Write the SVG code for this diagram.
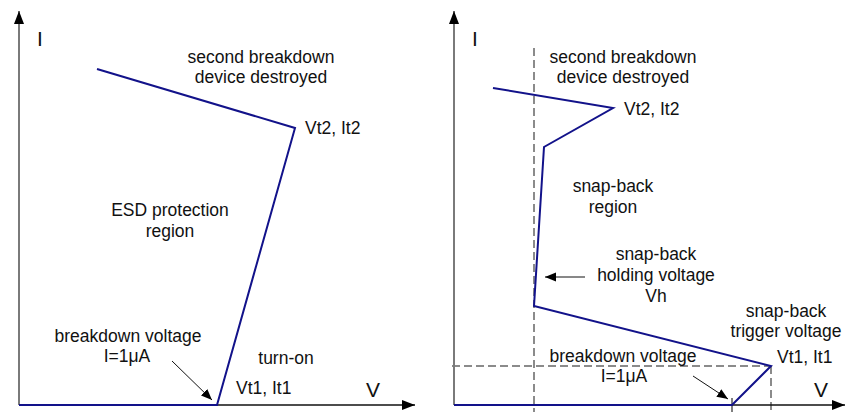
<svg xmlns="http://www.w3.org/2000/svg" width="845" height="412" viewBox="0 0 845 412">
  <style>
    .t { font-family: "Liberation Sans", Arial, sans-serif; font-size: 17.5px; fill: #111; }
    .m { text-anchor: middle; }
    .ax { font-family: "Liberation Sans", Arial, sans-serif; font-size: 21px; fill: #111; }
    .yaxis { stroke: #7a7a7a; stroke-width: 2; fill: none; }
    .xaxis { stroke: #111; stroke-width: 1.5; fill: none; }
    .curve { stroke: #12128a; stroke-width: 2; fill: none; stroke-linejoin: miter; }
    .dash { stroke: #666; stroke-width: 1.5; stroke-dasharray: 8 4; fill: none; }
    .ann { stroke: #111; stroke-width: 1; fill: none; }
  </style>
  <defs>
    <marker id="axarrow" markerWidth="14" markerHeight="10" refX="13" refY="5" orient="auto" markerUnits="userSpaceOnUse">
      <path d="M0,0 L13,5 L0,10 Z" fill="#000"/>
    </marker>
    <marker id="annarrow" markerWidth="12" markerHeight="10" refX="11" refY="5" orient="auto" markerUnits="userSpaceOnUse">
      <path d="M0,0.5 L11,5 L0,9.5 Z" fill="#000"/>
    </marker>
  </defs>

  <g id="connectors">
    <!-- left chart axes -->
    <line class="yaxis" x1="19" y1="405" x2="19" y2="11" marker-end="url(#axarrow)"/>
    <line class="xaxis" x1="19" y1="405" x2="415" y2="405" marker-end="url(#axarrow)"/>
    <!-- left chart curve -->
    <polyline class="curve" points="19,405 217,405 295,128 97,69"/>
    <!-- left annotation arrow -->
    <line class="ann" x1="172" y1="361" x2="212" y2="400" marker-end="url(#annarrow)"/>

    <!-- right chart dashed guides -->
    <line class="dash" x1="534" y1="48" x2="534" y2="412"/>
    <line class="dash" x1="452" y1="366" x2="771" y2="366"/>
    <line class="dash" x1="771" y1="366" x2="771" y2="412"/>
    <line stroke="#555" stroke-width="1.5" x1="732" y1="398" x2="732" y2="412"/>
    <!-- right chart axes -->
    <line class="yaxis" x1="454" y1="405" x2="454" y2="11" marker-end="url(#axarrow)"/>
    <line class="xaxis" x1="454" y1="405" x2="845" y2="405" marker-end="url(#axarrow)"/>
    <!-- right chart curve -->
    <polyline class="curve" points="454,405 732,405 771,366 534,306 544,147 613,108 493,88"/>
    <!-- right annotation arrows -->
    <line class="ann" x1="585" y1="277" x2="545" y2="277" marker-end="url(#annarrow)"/>
    <line class="ann" x1="693" y1="376" x2="728" y2="399" marker-end="url(#annarrow)"/>
  </g>

  <g id="left-labels">
    <text class="ax" x="37" y="46">I</text>
    <text class="ax" x="366" y="397">V</text>
    <text class="t m" x="261" y="63">second breakdown</text>
    <text class="t m" x="261" y="83">device destroyed</text>
    <text class="t" x="305" y="134">Vt2, It2</text>
    <text class="t m" x="170" y="216">ESD protection</text>
    <text class="t m" x="170" y="237">region</text>
    <text class="t m" x="128" y="342">breakdown voltage</text>
    <text class="t m" x="127" y="362">I=1μA</text>
    <text class="t m" x="286" y="364">turn-on</text>
    <text class="t" x="236" y="394">Vt1, It1</text>
  </g>

  <g id="right-labels">
    <text class="ax" x="472" y="46">I</text>
    <text class="ax" x="814" y="397">V</text>
    <text class="t m" x="623" y="63">second breakdown</text>
    <text class="t m" x="623" y="83">device destroyed</text>
    <text class="t" x="624" y="115">Vt2, It2</text>
    <text class="t m" x="613" y="192">snap-back</text>
    <text class="t m" x="613" y="213">region</text>
    <text class="t m" x="656" y="260">snap-back</text>
    <text class="t m" x="656" y="281">holding voltage</text>
    <text class="t m" x="656" y="302">Vh</text>
    <text class="t m" x="786" y="317">snap-back</text>
    <text class="t m" x="786" y="337">trigger voltage</text>
    <text class="t" x="777" y="363">Vt1, It1</text>
    <text class="t m" x="623" y="362">breakdown voltage</text>
    <text class="t m" x="624" y="382">I=1μA</text>
  </g>
</svg>
